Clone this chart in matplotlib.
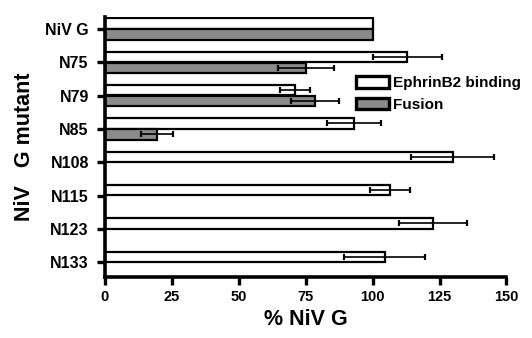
import numpy as np
import matplotlib
matplotlib.use("Agg")
import matplotlib.pyplot as plt

plt.rcParams['font.family'] = ['Liberation Sans', 'DejaVu Sans']
plt.rcParams['font.weight'] = 'bold'

categories = ["NiV G", "N75", "N79", "N85", "N108", "N115", "N123", "N133"]
ephrin = [100, 113, 71, 93, 130, 106.5, 122.5, 104.5]
ephrin_err = [0, 13, 5.7, 10, 15.5, 7.5, 12.7, 15]
fusion = [100, 75, 78.5, 19.5, np.nan, np.nan, np.nan, np.nan]
fusion_err = [0, 10.5, 9, 6, np.nan, np.nan, np.nan, np.nan]

fig = plt.figure(figsize=(5.32, 3.38), dpi=100)
ax = fig.add_axes([0.197, 0.180, 0.755, 0.770])

y = np.arange(len(categories))
h = 0.31
off = 0.165
gray = '#8a8a8a'

ax.barh(y - off, ephrin, height=h, color='white', edgecolor='black',
        linewidth=1.6, label='EphrinB2 binding', zorder=2)
ax.barh(y + off, fusion, height=h, color=gray, edgecolor='black',
        linewidth=1.6, label='Fusion', zorder=2)

e_err = np.array(ephrin_err, dtype=float)
f_err = np.array(fusion_err, dtype=float)
me = e_err > 0
ax.errorbar(np.array(ephrin)[me], (y - off)[me], xerr=e_err[me], fmt='none',
            ecolor='black', elinewidth=1.2, capsize=2, capthick=1.6, zorder=3)
mf = f_err > 0
ax.errorbar(np.array(fusion)[mf], (y + off)[mf], xerr=f_err[mf], fmt='none',
            ecolor='black', elinewidth=1.2, capsize=2, capthick=1.6, zorder=3)

ax.set_yticks(y)
ax.set_yticklabels(categories, fontsize=11.5, fontweight='bold')
ax.set_ylim(7.45, -0.36)
ax.set_xlim(0, 150)
ax.set_xticks([0, 25, 50, 75, 100, 125, 150])
ax.tick_params(axis='x', labelsize=10.5, width=2.4, length=5.5, pad=4)
ax.tick_params(axis='y', width=2.4, length=5.5, pad=6)
for lab in ax.get_xticklabels():
    lab.set_fontweight('bold')

for s in ['top', 'right']:
    ax.spines[s].set_visible(False)
for s in ['left', 'bottom']:
    ax.spines[s].set_linewidth(2.6)

ax.set_xlabel('% NiV G', fontsize=15.5, fontweight='bold', labelpad=3)
ax.set_ylabel('NiV   G mutant', fontsize=15.5, fontweight='bold', labelpad=7)

leg = ax.legend(loc='upper left', bbox_to_anchor=(0.625, 0.772), frameon=False,
                fontsize=11, handlelength=2.15, handleheight=0.75,
                handletextpad=0.25, labelspacing=0.5, borderaxespad=0,
                borderpad=0)
for t in leg.get_texts():
    t.set_fontweight('bold')
for p in leg.get_patches():
    p.set_linewidth(2.4)

fig.savefig('out.png', dpi=100)
